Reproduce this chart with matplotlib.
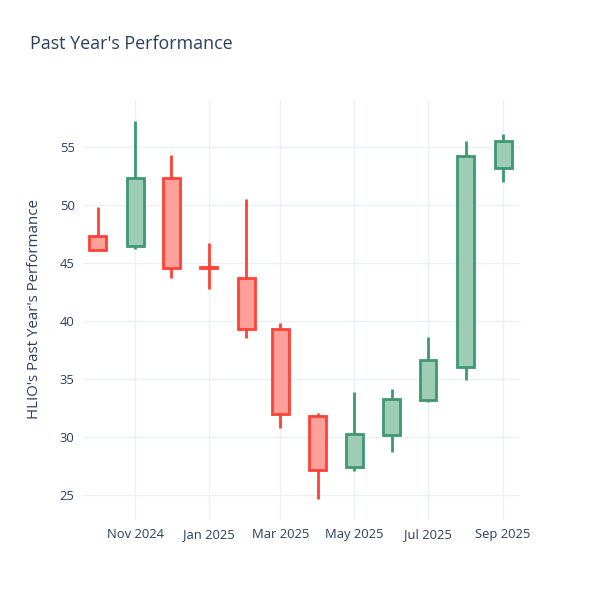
import matplotlib
matplotlib.use("Agg")
import matplotlib.pyplot as plt
import matplotlib.dates as mdates
import numpy as np
import pandas as pd

# monthly candles
months = ["2024-10-01", "2024-11-01", "2024-12-01", "2025-01-01", "2025-02-01", "2025-03-01",
          "2025-04-01", "2025-05-01", "2025-06-01", "2025-07-01", "2025-08-01", "2025-09-01"]
opens = [47.3, 46.5, 52.3, 44.65, 43.7, 39.35, 31.8, 27.45, 30.2, 33.2, 36.0, 53.15]
highs = [49.8, 57.2, 54.3, 46.7, 50.5, 39.8, 32.1, 33.9, 34.1, 38.6, 55.5, 56.1]
lows = [46.1, 46.2, 43.7, 42.8, 38.5, 30.75, 24.7, 27.1, 28.7, 33.0, 34.9, 52.0]
closes = [46.1, 52.3, 44.6, 44.6, 39.3, 32.0, 27.2, 30.25, 33.3, 36.65, 54.2, 55.55]

dates = mdates.date2num(pd.to_datetime(months))
opens = np.array(opens)
closes = np.array(closes)
highs = np.array(highs)
lows = np.array(lows)

inc_line, inc_fill = "#3D9970", "#9eccb7"
dec_line, dec_fill = "#FF4136", "#ffa09a"
text_col = "#2a3f5f"
grid_col = "#ebf0f8"

plt.rcParams['font.family'] = ['Open Sans', 'DejaVu Sans']

fig = plt.figure(figsize=(6, 6), dpi=100)
ax = fig.add_axes([83 / 600, 80 / 600, 437 / 600, 420 / 600])

width = 14
for d, o, h, l, c in zip(dates, opens, highs, lows, closes):
    up = c > o
    lc = inc_line if up else dec_line
    fc = inc_fill if up else dec_fill
    top, bot = max(o, c), min(o, c)
    ax.vlines(d, top, h, color=lc, linewidth=2, zorder=2)
    ax.vlines(d, l, bot, color=lc, linewidth=2, zorder=2)
    ax.bar(d, top - bot, bottom=bot, width=width, color=fc, edgecolor=lc,
           linewidth=2, zorder=3)

ax.set_xlim(mdates.date2num(pd.Timestamp("2024-09-19")), mdates.date2num(pd.Timestamp("2025-09-15")))
ax.set_ylim(22.85, 59.05)

ax.xaxis.set_major_locator(mdates.MonthLocator(bymonth=[1, 3, 5, 7, 9, 11]))
ax.xaxis.set_major_formatter(mdates.DateFormatter("%b %Y"))
ax.set_yticks([25, 30, 35, 40, 45, 50, 55])

ax.grid(True, color=grid_col, linewidth=1, zorder=0)
ax.set_axisbelow(True)
for s in ax.spines.values():
    s.set_visible(False)
ax.tick_params(length=0, labelsize=9.4, colors=text_col, pad=6)

fig.text(30 / 600, 1 - 44 / 600, "Past Year's Performance", fontsize=12.9,
         color=text_col, va='center', ha='left')
fig.text(35 / 600, 1 - 309 / 600, "HLIO's Past Year's Performance", fontsize=10.8,
         color=text_col, rotation=90, va='center', ha='center')

plt.savefig("out.png", dpi=100)
